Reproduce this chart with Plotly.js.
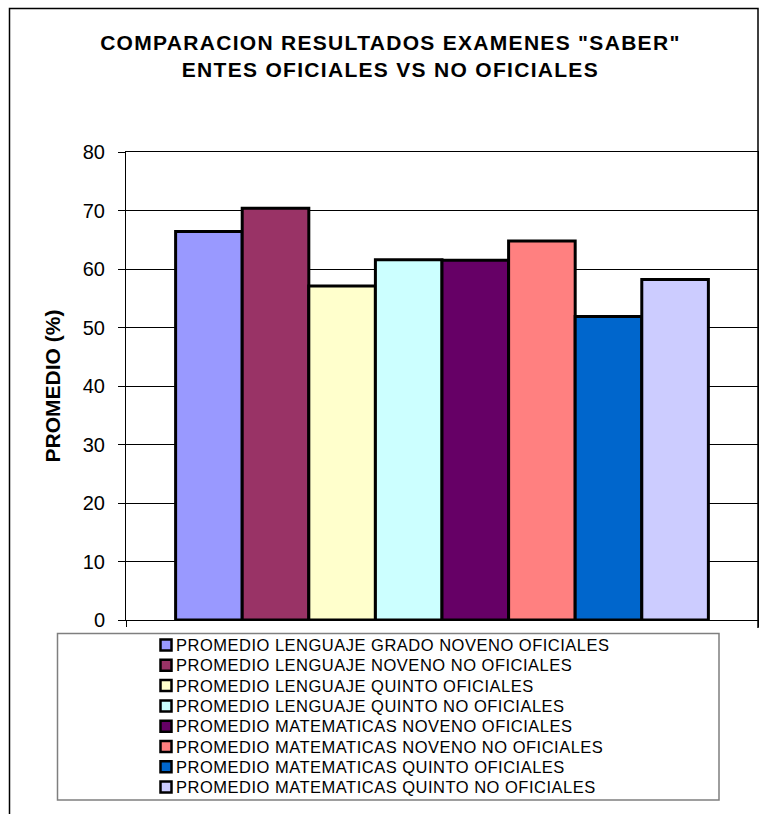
<!DOCTYPE html>
<html>
<head>
<meta charset="utf-8">
<script src="https://cdn.plot.ly/plotly-3.0.1.min.js"></script>
<style>
  html, body { margin: 0; padding: 0; background: #fff; }
  #chart { width: 767px; height: 814px; }
  .gtitle { letter-spacing: 1.3px; }
  .annotation-text { letter-spacing: 0.5px; }
</style>
</head>
<body>
<div id="chart"></div>
<script>
// ---- data ----
const seriesNames = [
  "PROMEDIO LENGUAJE GRADO NOVENO OFICIALES",
  "PROMEDIO LENGUAJE NOVENO NO OFICIALES",
  "PROMEDIO LENGUAJE QUINTO OFICIALES",
  "PROMEDIO LENGUAJE QUINTO NO OFICIALES",
  "PROMEDIO MATEMATICAS NOVENO OFICIALES",
  "PROMEDIO MATEMATICAS NOVENO NO OFICIALES",
  "PROMEDIO MATEMATICAS QUINTO OFICIALES",
  "PROMEDIO MATEMATICAS QUINTO NO OFICIALES"
];
const seriesValues = [66.4, 70.4, 57.1, 61.6, 61.5, 64.8, 51.9, 58.2];
const seriesColors = ["#9999FF", "#993366", "#FFFFCC", "#CCFFFF", "#660066", "#FF8080", "#0066CC", "#CCCCFF"];
const yTickVals = [0, 10, 20, 30, 40, 50, 60, 70, 80];
const titleText = 'COMPARACION RESULTADOS EXAMENES "SABER"<br>ENTES OFICIALES VS NO OFICIALES';
const yTitleText = "PROMEDIO (%)";

// ---- layout geometry (pixels) ----
const W = 767, H = 814;
const M = { l: 126, r: 9, t: 152, b: 194 };
const plotW = W - M.l - M.r, plotH = H - M.t - M.b;
const px = x => (x - M.l) / plotW;          // pixel x -> paper x
const py = y => (H - M.b - y) / plotH;       // pixel y -> paper y
const FONT = "Liberation Sans, Arial, sans-serif";

const traces = seriesNames.map((name, i) => ({
  type: "bar",
  name: name,
  x: [0],
  y: [seriesValues[i]],
  marker: { color: seriesColors[i], line: { color: "#000", width: 3 } },
  hoverinfo: "name+y"
}));

// frame + legend box + legend swatches
const shapes = [
  { type: "path", xref: "paper", yref: "paper",
    path: `M ${px(9.5)},${py(816)} L ${px(9.5)},${py(8.5)} L ${px(758)},${py(8.5)} L ${px(758)},${py(628)}`,
    line: { color: "#000", width: 1.5 } },
  { type: "rect", xref: "paper", yref: "paper",
    x0: px(57.5), x1: px(719), y0: py(633.5), y1: py(800),
    line: { color: "#7f7f7f", width: 1.5 }, fillcolor: "rgba(0,0,0,0)" }
];
const annotations = [];
const rowY0 = 645, rowStep = 20.3;
seriesNames.forEach((name, i) => {
  const cy = rowY0 + i * rowStep;
  shapes.push({ type: "rect", xref: "paper", yref: "paper",
    x0: px(160.5), x1: px(171.5), y0: py(cy + 5.5), y1: py(cy - 5.5),
    fillcolor: seriesColors[i], line: { color: "#000", width: 2.5 } });
  annotations.push({ xref: "paper", yref: "paper", x: px(174), y: py(cy),
    xanchor: "left", yanchor: "middle", showarrow: false, text: name,
    font: { family: FONT, size: 16.5, color: "#000" } });
});

const layout = {
  width: W, height: H,
  margin: M,
  paper_bgcolor: "#fff", plot_bgcolor: "#fff",
  showlegend: false,
  barmode: "group",
  bargap: 0.157,
  bargroupgap: 0,
  font: { family: FONT, color: "#000" },
  title: {
    text: titleText,
    font: { family: FONT, size: 21, weight: "bold", color: "#000" },
    xref: "container", x: 0.509, xanchor: "center",
    yref: "container", y: 1 - 50 / H, yanchor: "top"
  },
  xaxis: {
    type: "linear", range: [-0.5, 0.5],
    tickvals: [-0.5, 0.5], showticklabels: false,
    ticks: "outside", ticklen: 6, tickcolor: "#000", tickwidth: 1,
    showgrid: false, zeroline: false,
    showline: true, linecolor: "#000", linewidth: 1, mirror: true,
    fixedrange: true
  },
  yaxis: {
    range: [0, 80], tickvals: yTickVals,
    ticks: "outside", ticklen: 7, tickcolor: "#000", tickwidth: 1,
    ticklabelstandoff: 9,
    tickfont: { family: FONT, size: 20, color: "#000" },
    showgrid: true, gridcolor: "#000", gridwidth: 1,
    zeroline: false,
    showline: true, linecolor: "#000", linewidth: 1, mirror: true,
    title: { text: yTitleText, standoff: 16,
      font: { family: FONT, size: 21, weight: "bold", color: "#000" } },
    fixedrange: true
  },
  shapes: shapes,
  annotations: annotations
};

Plotly.newPlot("chart", traces, layout, { displayModeBar: false, staticPlot: true });
</script>
</body>
</html>
